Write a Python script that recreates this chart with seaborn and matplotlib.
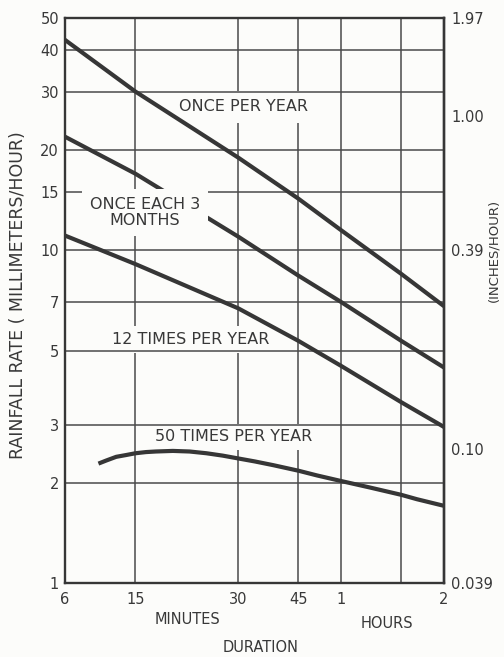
import numpy as np
import pandas as pd
import matplotlib
matplotlib.use("Agg")
import matplotlib.pyplot as plt
from matplotlib.ticker import FixedLocator, NullLocator
import seaborn as sns

# Rainfall rate (mm/hour) against storm duration (minutes) for four recurrence levels
once_per_year_min = [6, 15, 30, 45, 60, 90, 120]
once_per_year_mm = [43, 30, 19, 14.3, 11.5, 8.5, 6.8]

once_each_3_months_min = [6, 15, 30, 45, 60, 90, 120]
once_each_3_months_mm = [22, 17.0, 11.0, 8.4, 7.0, 5.35, 4.45]

twelve_per_year_min = [6, 15, 30, 45, 60, 90, 120]
twelve_per_year_mm = [11.1, 9.1, 6.7, 5.35, 4.5, 3.5, 2.95]

fifty_per_year_min = [9.3, 10.3, 11.7, 13.3, 15.0, 16.1, 17.2, 19.3, 21.6, 24.2, 27.0,
                      30.2, 33.5, 38, 45, 51, 60, 73, 90, 100, 120]
fifty_per_year_mm = [2.29, 2.34, 2.40, 2.43, 2.46, 2.48, 2.49, 2.50, 2.49, 2.46, 2.42,
                     2.37, 2.325, 2.265, 2.18, 2.11, 2.03, 1.94, 1.845, 1.79, 1.71]

series_names = ["ONCE PER YEAR", "ONCE EACH 3\nMONTHS", "12 TIMES PER YEAR", "50 TIMES PER YEAR"]
label_x = [31, 16, 21.7, 29]
label_y = [27, 13, 5.4, 2.76]

y_ticks = [1, 2, 3, 5, 7, 10, 15, 20, 30, 40, 50]
x_ticks = [6, 15, 30, 45, 60, 120]
x_labels = ["6", "15", "30", "45", "1", "2"]
x_extra_grid = [90]

# right-hand scale: inch equivalents of gridded mm/hour values
right_mm = [1, 2.54, 10, 25.4, 50]
right_labels = ["0.039", "0.10", "0.39", "1.00", "1.97"]

frames = []
for name, xs, ys in zip(series_names,
                        [once_per_year_min, once_each_3_months_min, twelve_per_year_min, fifty_per_year_min],
                        [once_per_year_mm, once_each_3_months_mm, twelve_per_year_mm, fifty_per_year_mm]):
    frames.append(pd.DataFrame({"duration": xs, "rate": ys, "series": name}))
df = pd.concat(frames, ignore_index=True)

# Duration axis: logarithmic from 15 min upward, compressed below 15 min
L6, L15 = np.log(6.0), np.log(15.0)
P6 = np.log(9.3)
K = (L15 - P6) / (L15 - L6)


def duration_forward(x):
    lx = np.log(np.clip(np.asarray(x, dtype=float), 1e-6, None))
    return np.where(lx < L15, L15 - (L15 - lx) * K, lx)


def duration_inverse(p):
    p = np.asarray(p, dtype=float)
    return np.where(p < L15, np.exp(L15 - (L15 - p) / K), np.exp(p))


sns.set_style("white")
plt.rcParams["font.family"] = ["DejaVu Sans"]

bg = "#fcfcfa"
ink = "#363636"
grid_c = "#4a4a4a"
text_c = "#383838"

fig = plt.figure(figsize=(5.04, 6.57), dpi=100, facecolor=bg)
ax = fig.add_axes([0.128, 0.112, 0.753, 0.861])
ax.set_facecolor(bg)

sns.lineplot(data=df, x="duration", y="rate", hue="series", palette=[ink] * 4,
             legend=False, linewidth=3.0, sort=False, estimator=None, ax=ax,
             zorder=3, solid_capstyle="butt")

ax.set_xscale("function", functions=(duration_forward, duration_inverse))
ax.set_yscale("log")
ax.set_xlim(6, 120)
ax.set_ylim(1, 50)

ax.set_xticks(x_ticks, labels=x_labels)
ax.xaxis.set_minor_locator(FixedLocator(x_extra_grid))
ax.yaxis.set_major_locator(FixedLocator(y_ticks))
ax.yaxis.set_minor_locator(NullLocator())
ax.set_yticklabels([str(v) for v in y_ticks])

ax.grid(True, which="both", axis="both", color=grid_c, linewidth=1.1)
ax.tick_params(which="both", length=0, labelsize=10.5, labelcolor=text_c)
ax.tick_params(axis="x", pad=6)
ax.tick_params(axis="y", pad=4)
ax.set_xlabel("")
ax.set_ylabel("")

# vertical grid under the label patches, horizontal grid over them
ax.xaxis.set_zorder(0.5)
ax.yaxis.set_zorder(2.7)

for sp in ax.spines.values():
    sp.set_visible(True)
    sp.set_color(ink)
    sp.set_linewidth(1.7)
    sp.set_zorder(5)

sec = ax.secondary_yaxis("right", functions=(lambda v: v / 25.4, lambda v: v * 25.4))
sec.set_ticks([m / 25.4 for m in right_mm], labels=right_labels)
sec.yaxis.set_minor_locator(NullLocator())
sec.tick_params(which="both", length=0, labelsize=10.5, labelcolor=text_c, pad=5)
sec.spines["right"].set_color(ink)
sec.spines["right"].set_linewidth(1.7)

label_z = [2.5, 4, 2.5, 2.5]
label_pad = [6, 6, 4.5, 4]
for name, lx, ly, z, pd_ in zip(series_names, label_x, label_y, label_z, label_pad):
    ax.text(lx, ly, name, ha="center", va="center", fontsize=11.5, color=text_c,
            linespacing=1.1, zorder=z,
            bbox=dict(facecolor=bg, edgecolor="none", pad=pd_))

fig.text(187 / 504, 1 - 620 / 657, "MINUTES", ha="center", va="center", fontsize=10.5, color=text_c)
fig.text(387 / 504, 1 - 623 / 657, "HOURS", ha="center", va="center", fontsize=10.5, color=text_c)
fig.text(261 / 504, 1 - 648 / 657, "DURATION", ha="center", va="center", fontsize=10.5, color=text_c)
fig.text(18 / 504, 1 - 295 / 657, "RAINFALL RATE ( MILLIMETERS/HOUR)", rotation=90,
         ha="center", va="center", fontsize=12.5, color=text_c)
fig.text(494 / 504, 1 - 250 / 657, "(INCHES/HOUR)", rotation=90,
         ha="center", va="center", fontsize=9.5, color=text_c)

fig.savefig("out.png", dpi=100, facecolor=bg)
